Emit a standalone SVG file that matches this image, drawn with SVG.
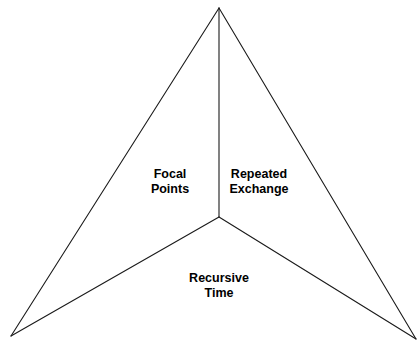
<svg xmlns="http://www.w3.org/2000/svg" width="417" height="341" viewBox="0 0 417 341">
<style>
.e{stroke:#1a1a1a;stroke-width:1.1;fill:none;stroke-linecap:round}
.t{font-family:"Liberation Sans",Arial,sans-serif;font-weight:bold;font-size:12.5px;fill:#000;text-anchor:middle}
</style>
<rect width="417" height="341" fill="#fff"/>
<g id="connectors">
<line class="e" x1="219" y1="8" x2="11" y2="336"/>
<line class="e" x1="219" y1="8" x2="416" y2="339"/>
<line class="e" x1="219" y1="8" x2="219" y2="217"/>
<line class="e" x1="219" y1="217" x2="11" y2="336"/>
<line class="e" x1="219" y1="217" x2="416" y2="339"/>
</g>
<g id="focal-points"><text class="t" x="170" y="177.5">Focal</text><text class="t" x="170" y="193">Points</text></g>
<g id="repeated-exchange"><text class="t" x="259" y="177.5">Repeated</text><text class="t" x="259" y="193">Exchange</text></g>
<g id="recursive-time"><text class="t" x="219" y="282">Recursive</text><text class="t" x="219" y="297">Time</text></g>
</svg>
